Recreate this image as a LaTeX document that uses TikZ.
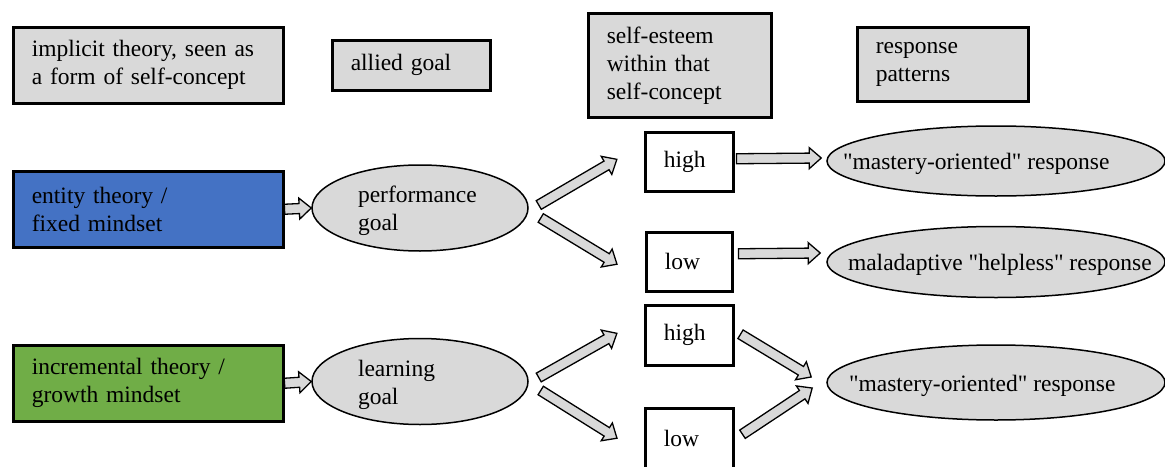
\documentclass[tikz,border=0pt]{standalone}
\usepackage{fontspec}
\setmainfont{Liberation Serif}[Ligatures=TeXOff]
\usetikzlibrary{calc,shapes.geometric}
\definecolor{boxgray}{HTML}{D9D9D9}
\definecolor{entblue}{HTML}{4472C4}
\definecolor{incgreen}{HTML}{70AD47}
\newcommand\barrow[2]{%
  \draw[blockarrow] let \p1=#1, \p2=#2,
    \n1={atan2(\y2-\y1,\x2-\x1)}, \n2={veclen(\x2-\x1,\y2-\y1)} in
    [shift={(\p1)}, rotate=\n1]
    (0,-5) -- ({\n2-12},-5) -- ({\n2-12},-10.5) -- (\n2,0) -- ({\n2-12},10.5) -- ({\n2-12},5) -- (0,5) -- cycle;}
\newcommand\ltxt[2]{\makebox[0pt][l]{\hspace{-#1pt}\raisebox{-3pt}[\height][\depth]{\begin{tabular}{@{}l@{}}#2\end{tabular}}}}
\begin{document}
\begin{tikzpicture}[x=1pt,y=-1pt,
  every node/.style={font=\fontsize{23.5}{28}\selectfont, text=black},
  hbox/.style={draw, line width=2.5pt, anchor=north west, inner xsep=18.5pt, inner ysep=0pt, align=left},
  gbox/.style={hbox, fill=boxgray},
  goalell/.style={ellipse, draw, line width=1.5pt, fill=boxgray, inner sep=0pt, minimum width=216, minimum height=86},
  respell/.style={ellipse, draw, line width=1.5pt, fill=boxgray, inner sep=0pt, minimum width=338},
  blockarrow/.style={draw=black, fill=boxgray, line width=1.3pt, line join=miter}]
\useasboundingbox (0,0) rectangle (1165,466);
\clip (0,0) rectangle (1165,466);
% header boxes
\node[gbox, minimum width=270, minimum height=76, text width=233] (imp) at (12,26) {implicit theory, seen as\\a form of self-concept};
\node[gbox, minimum width=158, minimum height=50, text width=121] (ally) at (331,39) {allied goal};
\node[gbox, minimum width=183, minimum height=104, text width=146] (selfe) at (587,12) {self-esteem\\within that\\self-concept};
\node[gbox, minimum width=171, minimum height=74, text width=134] (resp) at (856,26) {response\\patterns};
% theory boxes
\node[hbox, fill=entblue, minimum width=270, minimum height=76, text width=233] (ent) at (12,170) {entity theory /\\fixed mindset};
\node[hbox, fill=incgreen, minimum width=270, minimum height=76, text width=233] (inc) at (12,344) {incremental theory /\\growth mindset};
% goal ellipses
\node[goalell] (perf) at (420,208) {\ltxt{62}{performance\\goal}};
\node[goalell] (learn) at (420,381.5) {\ltxt{62}{learning\\goal}};
% self-esteem level boxes
\node[hbox, fill=white, minimum width=88, minimum height=59, text width=51] (high1) at (644,131) {high};
\node[hbox, fill=white, minimum width=86, minimum height=59, text width=49] (low1) at (645,231) {low};
\node[hbox, fill=white, minimum width=88, minimum height=60, text width=51] (high2) at (644,304) {high};
\node[hbox, fill=white, minimum width=88, minimum height=60, text width=51] (low2) at (644,407) {low};
% response ellipses
\node[respell, minimum height=70] (m1) at (996,161) {\ltxt{153}{"mastery-oriented" response}};
\node[respell, minimum height=71] (mal) at (996,262) {\ltxt{148}{maladaptive "helpless" response}};
\node[respell, minimum height=75] (m2) at (996,382.5) {\ltxt{147}{"mastery-oriented" response}};
% arrows
\barrow{(ent.east)}{(perf.west)}
\barrow{(inc.east)}{(learn.west)}
\barrow{($(perf.east)+(10,-3)$)}{($(high1.west)+(-27,-2.5)$)}
\barrow{($(perf.east)+(12,10)$)}{($(low1.west)+(-28,2.5)$)}
\barrow{($(learn.east)+(10,-4)$)}{($(high2.west)+(-27,-2)$)}
\barrow{($(learn.east)+(12,9)$)}{($(low2.west)+(-27,0)$)}
\barrow{($(high1.east)+(2,-3)$)}{($(m1.west)+(-5,-3)$)}
\barrow{($(low1.east)+(5,-8)$)}{($(mal.west)+(-6,-9)$)}
\barrow{($(high2.east)+(6,-1)$)}{($(m2.west)+(-15,-5.5)$)}
\barrow{($(low2.east)+(8,-4)$)}{($(m2.west)+(-14,5.5)$)}
\end{tikzpicture}
\end{document}
